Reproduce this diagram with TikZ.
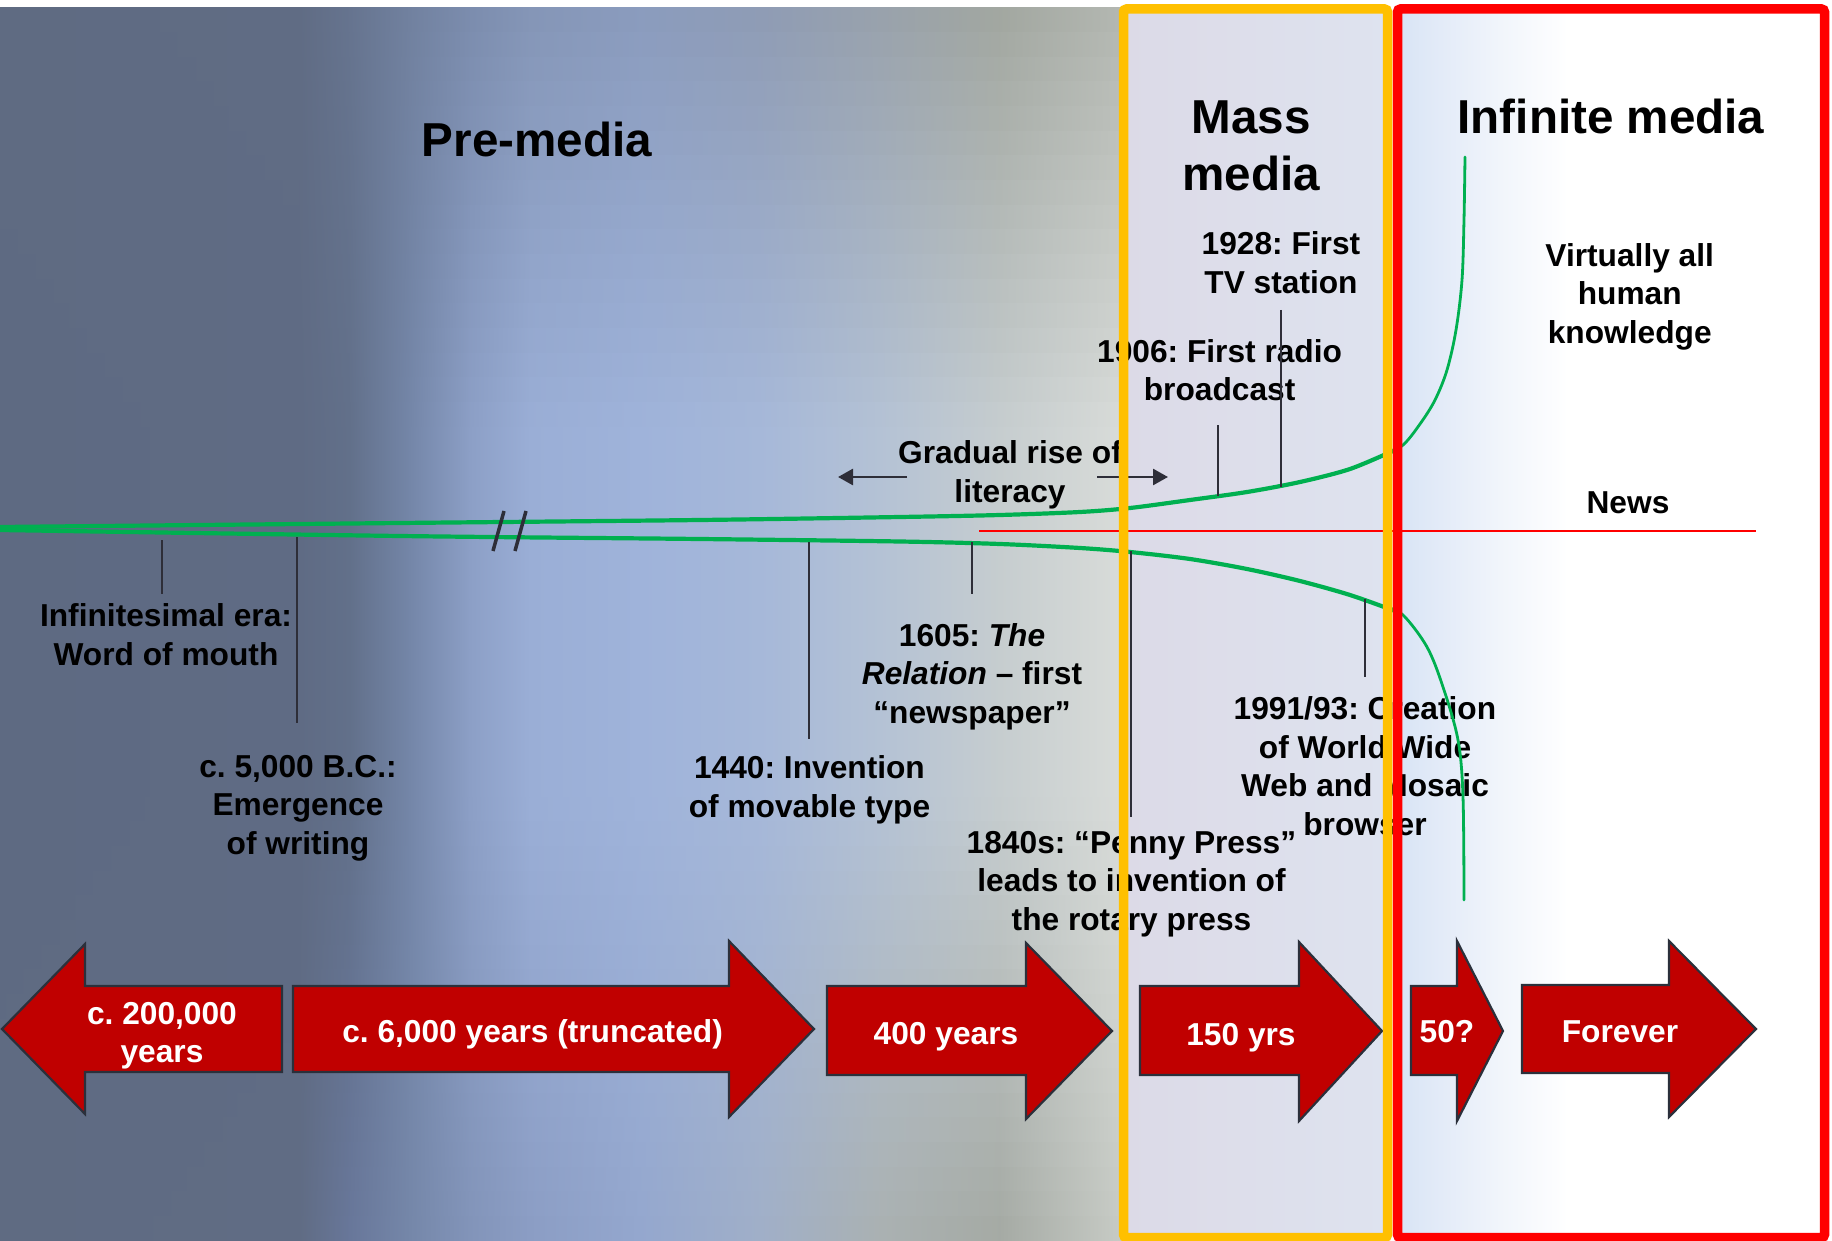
\documentclass[tikz,border=0pt]{standalone}
\usepackage{fontspec}
\setmainfont{Liberation Sans}
\usetikzlibrary{arrows.meta}
\frenchspacing
% background profiles (top / middle / bottom)
\definecolor{T0}{HTML}{5F6B82}\definecolor{T1}{HTML}{606C84}\definecolor{T2}{HTML}{66748F}
\definecolor{T3}{HTML}{71819F}\definecolor{T4}{HTML}{7B8CAD}\definecolor{T5}{HTML}{8495B6}
\definecolor{T6}{HTML}{8A9BBD}\definecolor{T7}{HTML}{8E9BB4}\definecolor{T8}{HTML}{98A1AB}
\definecolor{T9}{HTML}{A1A69F}\definecolor{T10}{HTML}{B3B7B1}
\definecolor{M0}{HTML}{5E6A82}\definecolor{M1}{HTML}{5F6B84}\definecolor{M2}{HTML}{62708A}
\definecolor{M3}{HTML}{7486A8}\definecolor{M4}{HTML}{8C9FC6}\definecolor{M5}{HTML}{9AAED6}
\definecolor{M6}{HTML}{9FB3DA}\definecolor{M7}{HTML}{A6B8D9}\definecolor{M8}{HTML}{B4C2D5}
\definecolor{M9}{HTML}{C6CDCF}\definecolor{M10}{HTML}{D9DCD9}
\definecolor{B0}{HTML}{5F6B82}\definecolor{B1}{HTML}{606C84}\definecolor{B2}{HTML}{68779A}
\definecolor{B3}{HTML}{7587A9}\definecolor{B4}{HTML}{8294B9}\definecolor{B5}{HTML}{8B9DC4}
\definecolor{B6}{HTML}{94A7CE}\definecolor{B7}{HTML}{A0AFC8}\definecolor{B8}{HTML}{AAB1B2}
\definecolor{B9}{HTML}{A5AAA4}\definecolor{B10}{HTML}{C8CCC6}
\definecolor{oA}{HTML}{DCDAE7}\definecolor{oB}{HTML}{DEE3EF}
\definecolor{rA}{HTML}{D8E4F5}\definecolor{rB}{HTML}{E3EBF8}\definecolor{rC}{HTML}{F1F5FB}
\definecolor{boxorange}{HTML}{FFC000}
\definecolor{boxred}{HTML}{FF0000}
\definecolor{linegreen}{HTML}{00B050}
\definecolor{arrowred}{HTML}{C00000}
\definecolor{arrowedge}{HTML}{2B303B}
\definecolor{tickgray}{HTML}{2E2E38}
\pgfdeclarehorizontalshading{redin}{100bp}{color(0bp)=(rA); color(25bp)=(rA); color(30bp)=(rB); color(37bp)=(rC); color(45bp)=(white); color(100bp)=(white)}
\tikzset{
  lbl/.style={align=center, inner sep=0pt, font=\bfseries\fontsize{31.7}{38.5}\selectfont,
              execute at begin node=\strut, execute at end node=\strut},
  wlbl/.style={lbl, text=white},
  hdr/.style={align=center, inner sep=0pt, font=\bfseries\fontsize{47.6}{57}\selectfont,
              execute at begin node=\strut, execute at end node=\strut},
  tickline/.style={draw=tickgray, line width=1.6pt},
  brk/.style={draw=tickgray, line width=3.5pt},
  garrow/.style={draw=tickgray, line width=2.7pt, -{Triangle[length=15pt,width=16pt]}},
  barrow/.style={fill=arrowred, draw=arrowedge, line width=2.2pt, line join=miter},
  gthick/.style={draw=linegreen, line width=4.2pt, line cap=round},
  gthin/.style={draw=linegreen, line width=2.8pt, line cap=round},
}
\newcommand{\bgseg}[4]{\shade[left color=S#1,right color=S#2] (#3,\ya) rectangle (#4,\yb);}
\begin{document}
\begin{tikzpicture}[x=1pt,y=-1pt]
\useasboundingbox (0,0) rectangle (1832,1241);
\fill[white] (0,0) rectangle (1832,1241);
% ---------- background ----------
\foreach \i in {0,...,49}{
  \pgfmathsetmacro\ya{8+\i*24.66}
  \pgfmathsetmacro\yb{\ya+25.4}
  \pgfmathsetmacro\yc{\ya+12.33}
  \pgfmathtruncatemacro\wt{max(0,min(100,(430-\yc)/4.2))}
  \pgfmathtruncatemacro\wb{max(0,min(100,(\yc-800)/4.3))}
  \foreach \k in {0,...,10}{
    \colorlet{U\k}{T\k!\wt!M\k}\xglobal\colorlet{S\k}{B\k!\wb!U\k}
  }
  \bgseg{0}{1}{0}{300.5}
  \bgseg{1}{2}{299.5}{350.5}
  \bgseg{2}{3}{349.5}{410.5}
  \bgseg{3}{4}{409.5}{470.5}
  \bgseg{4}{5}{469.5}{530.5}
  \bgseg{5}{6}{529.5}{640.5}
  \bgseg{6}{7}{639.5}{760.5}
  \bgseg{7}{8}{759.5}{880.5}
  \bgseg{8}{9}{879.5}{1000.5}
  \bgseg{9}{10}{999.5}{1126}
}
% box interiors
\shade[left color=oA,right color=oB] (1123.5,9) rectangle (1387.5,1241);
\shade[shading=redin] (1397.5,9) rectangle (1824.5,1241);
% ---------- News line ----------
\coordinate (nw1) at (979,531);
\coordinate (nw2) at (1756,531);
\draw[boxred, line width=1.5pt] (nw1) -- (nw2);
% ---------- text labels ----------
\node[hdr] (hPre) at (537,145.6) {Pre-media};
\node[hdr] (hMass) at (1251,154.6) {Mass\\media};
\node[hdr] (hInf) at (1611,122.1) {Infinite media};
\node[lbl] (tInf) at (166,640.1) {Infinitesimal era:\\Word of mouth};
\node[lbl] (tWri) at (298,810.4) {c. 5,000 B.C.:\\Emergence\\of writing};
\node[lbl] (tType) at (809.5,792.5) {1440: Invention\\of movable type};
\node[lbl] (tRel) at (972,679.2) {1605: \textit{The}\\\textit{Relation} – first\\“newspaper”};
\node[lbl] (tPenny) at (1131.5,886.3) {1840s: “Penny Press”\\leads to invention of\\the rotary press};
\node[lbl] (tWWW) at (1365,771.8) {1991/93: Creation\\of World Wide\\Web and Mosaic\\browser};
\node[lbl] (tRadio) at (1219.6,375.8) {1906: First radio\\broadcast};
\node[lbl] (tTV) at (1281,268.1) {1928: First\\TV station};
\node[lbl] (tLit) at (1010,477.3) {Gradual rise of\\literacy};
\node[lbl] (tAll) at (1629.7,298.8) {Virtually all\\human\\knowledge};
\node[lbl] (tNews) at (1628,505.8) {News};
% ---------- green curves ----------
\draw[gthick] plot[smooth, tension=0.5] coordinates {(0,527) (400,523) (700,520) (900,517) (1000,515) (1080,512) (1130,508) (1190,500) (1247,492) (1300,482) (1350,469) (1395,450)};
\draw[gthin] plot[smooth, tension=0.55] coordinates {(1383,456) (1403,445) (1420,424) (1435,400) (1447,370) (1456,330) (1462,280) (1464,220) (1465,157)};
\draw[gthick] plot[smooth, tension=0.5] coordinates {(0,530) (400,536) (700,539) (900,541.5) (1000,544) (1080,548) (1130,552) (1190,559) (1247,569) (1300,581) (1350,595) (1395,611)};
\draw[gthin] plot[smooth, tension=0.55] coordinates {(1385,607) (1403,615) (1427,647) (1443,687) (1458,740) (1463,797) (1464,900)};
% break marks
\coordinate (s1a) at (504,511); \coordinate (s1b) at (493,551);
\coordinate (s2a) at (526,511); \coordinate (s2b) at (515,551);
\draw[brk] (s1a) -- (s1b);
\draw[brk] (s2a) -- (s2b);
% ---------- ticks ----------
\coordinate (k1a) at (162,540);  \coordinate (k1b) at (162,594);
\coordinate (k2a) at (297,537);  \coordinate (k2b) at (297,723);
\coordinate (k3a) at (809,542);  \coordinate (k3b) at (809,739);
\coordinate (k4a) at (972,542);  \coordinate (k4b) at (972,594);
\coordinate (k5a) at (1131,551); \coordinate (k5b) at (1131,817);
\coordinate (k6a) at (1365,599); \coordinate (k6b) at (1365,677);
\coordinate (k7a) at (1218,425); \coordinate (k7b) at (1218,496);
\coordinate (k8a) at (1281,310); \coordinate (k8b) at (1281,487);
\foreach \k in {1,...,8}{ \draw[tickline] (k\k a) -- (k\k b); }
% ---------- literacy arrows ----------
\coordinate (ga1) at (907,477); \coordinate (ga2) at (838,477);
\coordinate (gb1) at (1097,477); \coordinate (gb2) at (1168,477);
\draw[garrow] (ga1) -- (ga2);
\draw[garrow] (gb1) -- (gb2);
% ---------- block arrows ----------
\draw[barrow] (2,1029) -- (85,944) -- (85,986) -- (282,986) -- (282,1072) -- (85,1072) -- (85,1114) -- cycle;
\draw[barrow] (293,986) -- (729,986) -- (729,941) -- (814,1029) -- (729,1117) -- (729,1072) -- (293,1072) -- cycle;
\draw[barrow] (827,986) -- (1026,986) -- (1026,943) -- (1112,1031) -- (1026,1119) -- (1026,1075) -- (827,1075) -- cycle;
\draw[barrow] (1140,986) -- (1299,986) -- (1299,942) -- (1382,1031) -- (1299,1121) -- (1299,1075) -- (1140,1075) -- cycle;
\draw[barrow] (1411,986) -- (1457,986) -- (1457,941) -- (1503,1031) -- (1457,1121) -- (1457,1075) -- (1411,1075) -- cycle;
\draw[barrow] (1522,985) -- (1669,985) -- (1669,941) -- (1756,1029) -- (1669,1117) -- (1669,1073) -- (1522,1073) -- cycle;
\node[wlbl, font=\bfseries\fontsize{31.7}{37.5}\selectfont] (aL1) at (162,1038) {c. 200,000\\years};
\node[wlbl] (aL2) at (532.6,1034.8) {c. 6,000 years (truncated)};
\node[wlbl] (aL3) at (946,1036.3) {400 years};
\node[wlbl] (aL4) at (1241,1038) {150 yrs};
\node[wlbl] (aL5) at (1447,1035) {50?};
\node[wlbl] (aL6) at (1620,1035) {Forever};
% ---------- era boxes ----------
\draw[boxorange, line width=9.5pt, rounded corners=3pt] (1123.5,9) rectangle (1387.5,1237.5);
\draw[boxred, line width=9.5pt, rounded corners=3pt] (1397.5,9) rectangle (1824.5,1237.5);
\end{tikzpicture}
\end{document}
